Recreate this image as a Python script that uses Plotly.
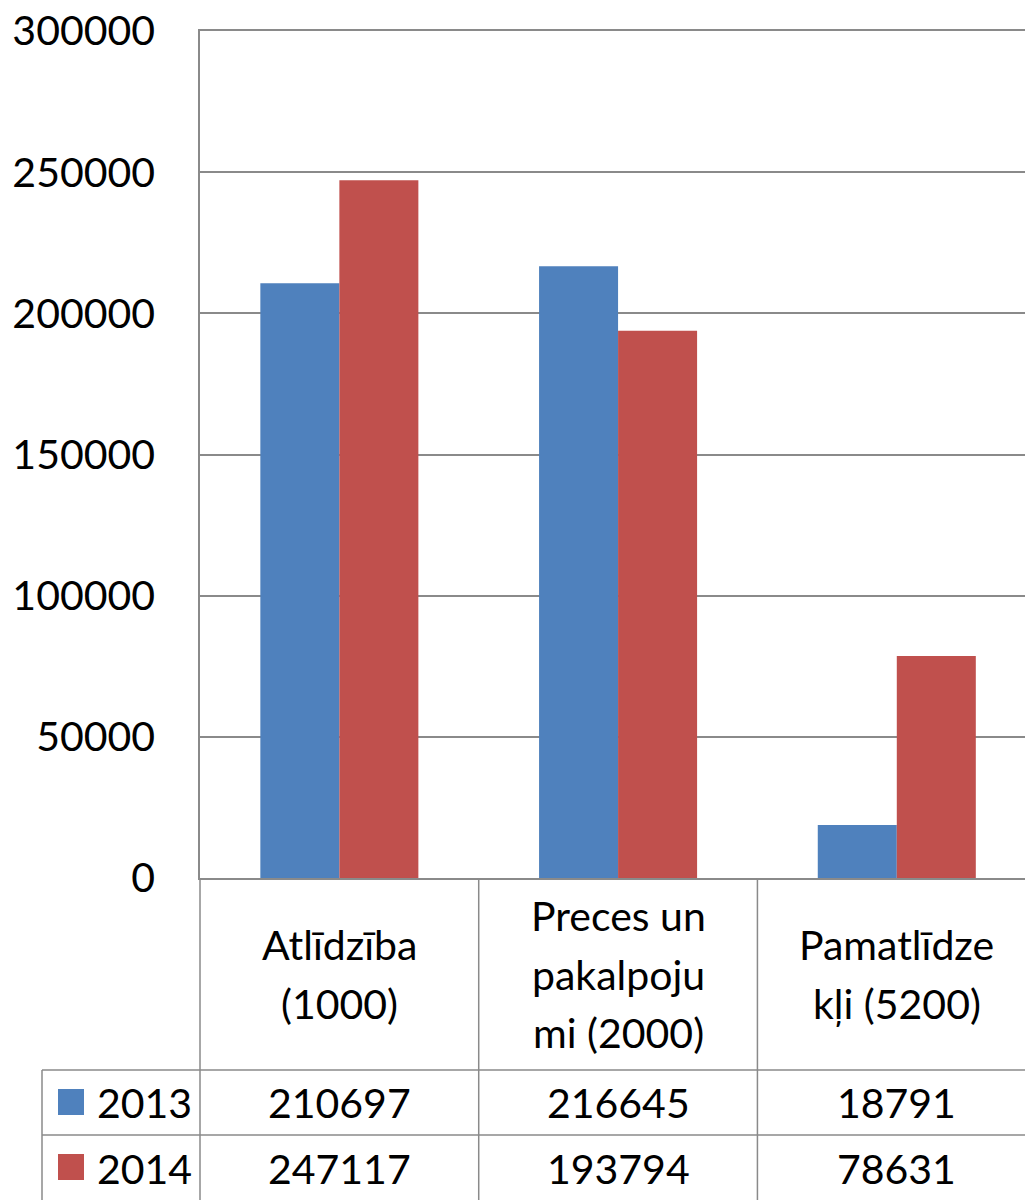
import plotly.graph_objects as go

categories = ["Atlīdzība<br>(1000)", "Preces un<br>pakalpoju<br>mi (2000)", "Pamatlīdze<br>kļi (5200)"]
series_names = ["2013", "2014"]
values_2013 = [210697, 216645, 18791]
values_2014 = [247117, 193794, 78631]
y_ticks = [0, 50000, 100000, 150000, 200000, 250000, 300000]

colors = ["#4F81BD", "#C0504D"]
FONT = "Lato"
FS = 41
GRID = "#8a8a8a"

W, H = 1025, 1200
L, R, T, B = 200, 0, 31, 322
PW = W - L - R
PH = H - T - B

def px_x(px):
    return (px - L) / PW

def px_y(py):
    return (H - B - py) / PH

xs = list(range(len(categories)))
fig = go.Figure()
for name, vals, col in zip(series_names, [values_2013, values_2014], colors):
    fig.add_trace(go.Bar(x=xs, y=vals, name=name, marker=dict(color=col, line=dict(width=0))))

fig.update_layout(
    width=W, height=H, autosize=False,
    margin=dict(l=L, r=R, t=T, b=B, pad=0),
    paper_bgcolor="white", plot_bgcolor="white",
    barmode="group", bargap=0.433, bargroupgap=0,
    showlegend=False,
    font=dict(family=FONT, size=FS, color="black"),
)
fig.update_xaxes(range=[-0.5, 2.46], showticklabels=False, showgrid=False,
                 zeroline=False, showline=True, mirror=True, linecolor=GRID, linewidth=1.5, ticks="")
fig.update_yaxes(range=[0, 300000], tickvals=y_ticks, ticktext=[str(v) for v in y_ticks],
                 showgrid=True, gridcolor=GRID, gridwidth=1.5, zeroline=False,
                 showline=True, linecolor=GRID, linewidth=1.5, ticks="",
                 ticklabelstandoff=35, tickfont=dict(family=FONT, size=FS, color="black"))

shapes = []
def hline(x0, x1, py, xref="paper"):
    shapes.append(dict(type="line", xref=xref, yref="paper", x0=x0, x1=x1, y0=px_y(py), y1=px_y(py),
                       line=dict(color=GRID, width=1.5)))
def vline(x, py0, py1, xref="paper"):
    shapes.append(dict(type="line", xref=xref, yref="paper", x0=x, x1=x, y0=px_y(py0), y1=px_y(py1),
                       line=dict(color=GRID, width=1.5)))

# table lines
hline(px_x(42), 1.0, 1070)
hline(px_x(42), 1.0, 1135)
vline(px_x(42), 1070, 1200)
vline(0, 878, 1200)
for b in [0.5, 1.5]:
    vline(b, 878, 1200, xref="x")

annotations = []
# category labels
line_gap = 58
for i, cat in enumerate(categories):
    lines = cat.split("<br>")
    n = len(lines)
    center = 974
    for j, ln in enumerate(lines):
        py = center + (j - (n - 1) / 2) * line_gap
        annotations.append(dict(x=i, xref="x", y=px_y(py), yref="paper", text=ln, showarrow=False,
                                xanchor="center", yanchor="middle", font=dict(family=FONT, size=FS, color="black")))

# value rows
row_centers = [1102, 1168]
key_tops = [1089, 1154]
for name, vals, col, rc, kt in zip(series_names, [values_2013, values_2014], colors, row_centers, key_tops):
    shapes.append(dict(type="rect", xref="paper", yref="paper", x0=px_x(58), x1=px_x(84),
                       y0=px_y(kt + 26), y1=px_y(kt), fillcolor=col, line=dict(width=0)))
    annotations.append(dict(x=px_x(95), xref="paper", y=px_y(rc), yref="paper", text=name, showarrow=False,
                            xanchor="left", yanchor="middle", font=dict(family=FONT, size=FS, color="black")))
    for i, v in enumerate(vals):
        annotations.append(dict(x=i, xref="x", y=px_y(rc), yref="paper", text=str(v), showarrow=False,
                                xanchor="center", yanchor="middle", font=dict(family=FONT, size=FS, color="black")))

fig.update_layout(shapes=shapes, annotations=annotations)
fig.write_html("out.html", config={"displayModeBar": False},
               post_script="document.body.style.margin='0';document.body.style.overflow='hidden';")
